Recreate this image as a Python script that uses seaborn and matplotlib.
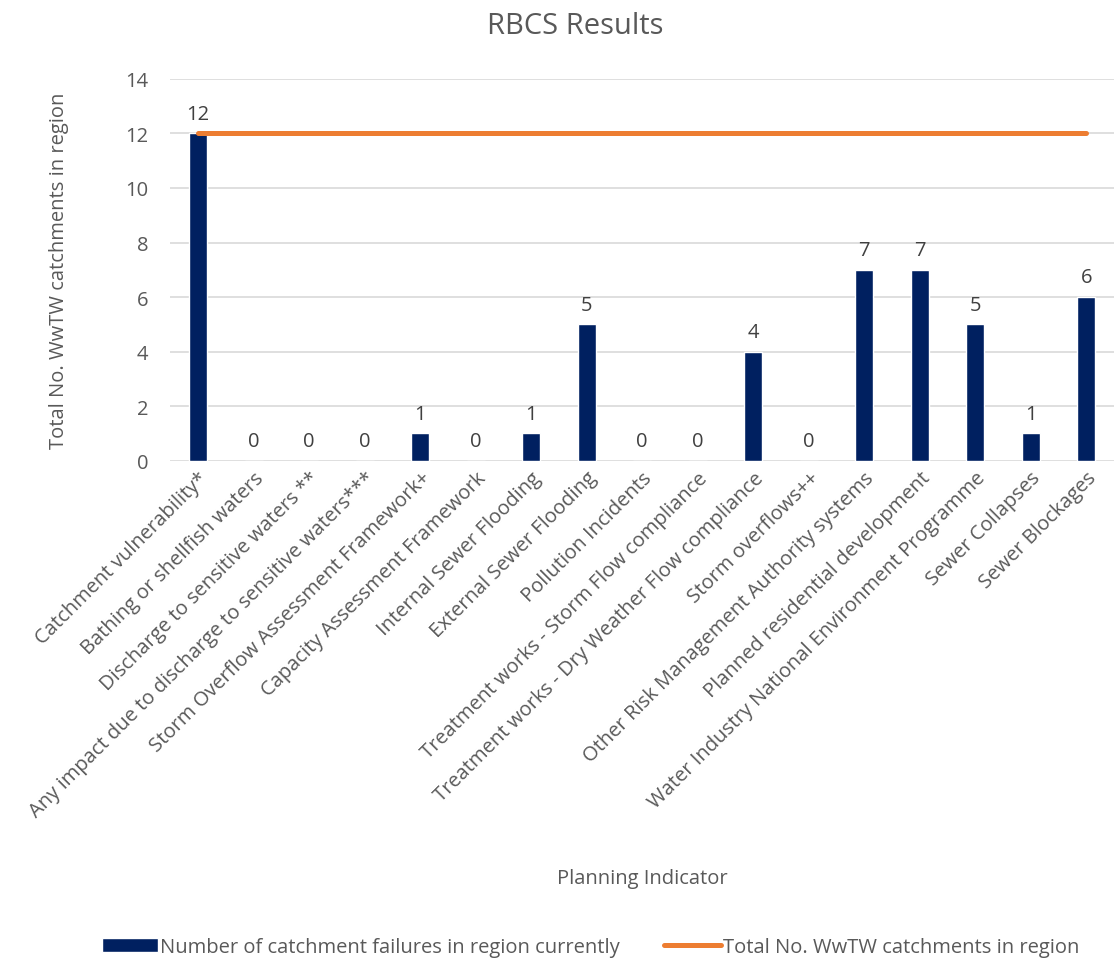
import pandas as pd
import seaborn as sns
import matplotlib.pyplot as plt

# planning indicators and counts
indicators = [
    "Catchment vulnerability*",
    "Bathing or shellfish waters",
    "Discharge to sensitive waters **",
    "Any impact due to discharge to sensitive waters***",
    "Storm Overflow Assessment Framework+",
    "Capacity Assessment Framework",
    "Internal Sewer Flooding",
    "External Sewer Flooding",
    "Pollution Incidents",
    "Treatment works - Storm Flow compliance",
    "Treatment works - Dry Weather Flow compliance",
    "Storm overflows++",
    "Other Risk Management Authority systems",
    "Planned residential development",
    "Water Industry National Environment Programme",
    "Sewer Collapses",
    "Sewer Blockages",
]
failures = [12, 0, 0, 0, 1, 0, 1, 5, 0, 0, 4, 0, 7, 7, 5, 1, 6]
total_catchments = [12] * len(indicators)

bar_name = "Number of catchment failures in region currently"
line_name = "Total No. WwTW catchments in region"

df = pd.DataFrame({"indicator": indicators, "failures": failures,
                   "total": total_catchments})

sns.set_theme(style="white")
plt.rcParams['font.family'] = ['Open Sans', 'DejaVu Sans']
grey = "#595959"
fs = 14.5

fig, ax = plt.subplots(figsize=(11.14, 9.62), dpi=100)
fig.subplots_adjust(left=0.153, right=1.0, top=0.917, bottom=0.52)

sns.barplot(data=df, x="indicator", y="failures", color="#002060",
            width=0.32, saturation=1, ax=ax, label=bar_name)
sns.lineplot(data=df, x="indicator", y="total", color="#ED7D31",
             linewidth=3.6, sort=False, ax=ax, label=line_name,
             solid_capstyle="round")

ax.bar_label(ax.containers[0], padding=7, fontsize=fs, color="#404040")

ax.set_ylim(0, 14)
ax.set_yticks(range(0, 15, 2))
ax.set_xlim(-0.5, len(indicators) - 0.5)
ax.yaxis.grid(True, color="#D9D9D9", linewidth=1.2)
ax.set_axisbelow(True)
for s in ax.spines.values():
    s.set_visible(False)
ax.tick_params(axis="both", length=0, colors=grey, labelsize=fs)
ax.tick_params(axis="y", pad=16)
ax.tick_params(axis="x", pad=5)
plt.setp(ax.get_xticklabels(), rotation=45, ha="right",
         rotation_mode="anchor")

fig.suptitle("RBCS Results", x=575 / 1114, y=0.988, fontsize=21,
             color=grey, va="top")
ax.set_xlabel("Planning Indicator", fontsize=fs, color=grey)
ax.xaxis.set_label_coords(0.5, -1.066)
ax.set_ylabel("Total No. WwTW catchments in region", fontsize=fs,
              color=grey)
ax.yaxis.set_label_coords(-0.108, 0.5)

handles, labels = ax.get_legend_handles_labels()
order = [labels.index(bar_name), labels.index(line_name)]
ax.legend([handles[i] for i in order], [labels[i] for i in order],
          loc="center", bbox_to_anchor=(0.445, -1.273), ncol=2,
          frameon=False, fontsize=fs, labelcolor=grey, handlelength=2.8,
          handletextpad=0.1, columnspacing=2.2)

fig.savefig("out.png", dpi=100)
